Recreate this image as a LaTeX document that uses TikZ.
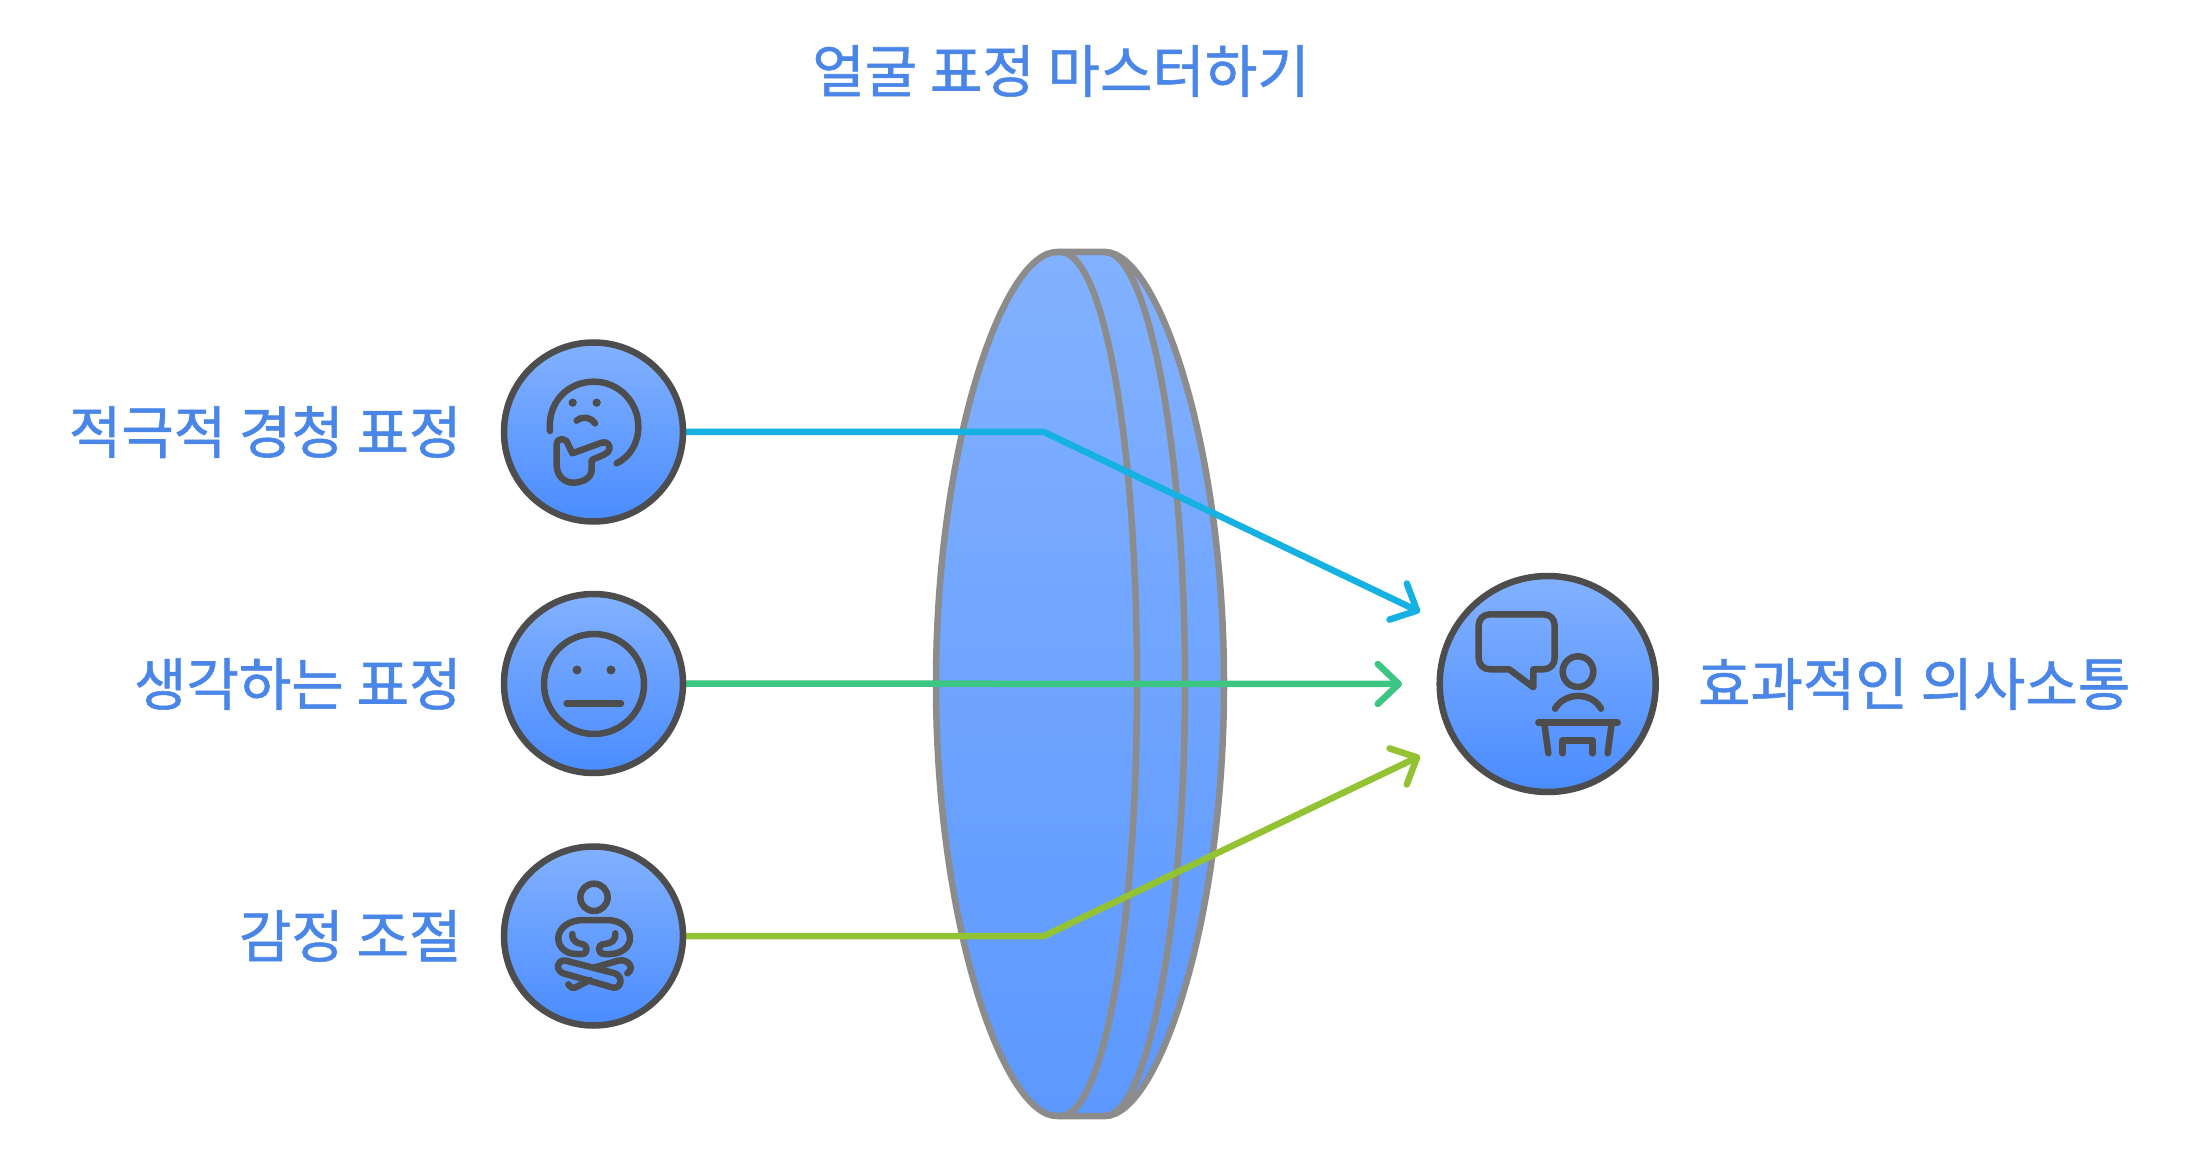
\documentclass[tikz,border=0pt]{standalone}
\usepackage{fontspec}
\setmainfont[FakeBold=1]{Noto Sans CJK KR}
\usetikzlibrary{arrows.meta}
\definecolor{txtblue}{HTML}{4A86E8}
\definecolor{lensgray}{HTML}{8C8C8C}
\definecolor{icongray}{HTML}{4D4D4D}
\definecolor{gradtop}{HTML}{82B1FF}
\definecolor{gradbot}{HTML}{4A8CFF}
\definecolor{lensbot}{HTML}{5C98FF}
\definecolor{cblue}{HTML}{14B1E2}
\definecolor{cgreen}{HTML}{3CC583}
\definecolor{clime}{HTML}{93C332}
\tikzset{
  x=1pt,y=-1pt,
  badge/.style={circle,draw=icongray,line width=6.5pt,top color=gradtop,bottom color=gradbot,inner sep=0pt,outer sep=0pt},
  lbl/.style={text=txtblue,font=\fontsize{57}{60}\selectfont,inner sep=0pt,outer sep=0pt},
  lensline/.style={draw=lensgray,line width=6.5pt,line join=round},
  icon/.style={draw=icongray,line width=6.5pt,line cap=round,line join=round},
  dot/.style={fill=icongray},
  link/.style={line width=6.5pt,line cap=round,line join=round,-{Straight Barb[length=21pt,width=40pt,line width=6.5pt,round]}},
}
\begin{document}
\begin{tikzpicture}
\useasboundingbox (0,0) rectangle (2196,1155);
% lens
\path[lensline,shade,top color=gradtop,bottom color=lensbot]
  (1057,252) -- (1105,252)
  .. controls (1158,252) and (1224,446) .. (1224,684)
  .. controls (1224,922) and (1158,1116) .. (1105,1116)
  -- (1057,1116)
  .. controls (1003,1116) and (936,922) .. (936,684)
  .. controls (936,446) and (1003,252) .. (1057,252) -- cycle;
\draw[lensline] (1060,252) .. controls (1105,252) and (1137,446) .. (1137,684)
  .. controls (1137,922) and (1105,1116) .. (1060,1116);
\draw[lensline] (1105,252) .. controls (1148,252) and (1185,446) .. (1185,684)
  .. controls (1185,922) and (1148,1116) .. (1105,1116);
% connector ends and badges
\coordinate (b1) at (1044,432);
\coordinate (b3) at (1044,936);
\coordinate (t1) at (1420,612);
\coordinate (t2) at (1402,684);
\coordinate (t3) at (1420,756);
\coordinate (s1) at (593.5,432);
\coordinate (s2) at (593.5,683.5);
\coordinate (s3) at (593.5,936);
\draw[link,cblue] (s1) -- (b1) -- (t1);
\draw[link,cgreen] (s2) -- (t2);
\draw[link,clime] (s3) -- (b3) -- (t3);
\node[badge,minimum size=179pt] (c1) at (s1) {};
\node[badge,minimum size=179pt] (c2) at (s2) {};
\node[badge,minimum size=179pt] (c3) at (s3) {};
\node[badge,minimum size=216pt] (c4) at (1547.7,684) {};
% icon 1
\begin{scope}[shift={(490,330)},xscale=1/3,yscale=1/3]
\draw[icon] (180,303) .. controls (172,215) and (235,155) .. (312,155)
  .. controls (385,155) and (445,215) .. (445,290)
  .. controls (445,340) and (420,380) .. (380,400);
\fill[dot] (248,218) circle (12.5);
\fill[dot] (320,218) circle (12.5);
\draw[icon] (260,272) .. controls (278,258) and (300,260) .. (315,280);
\draw[icon] (247,370) -- (335,338) .. controls (350,333) and (362,345) .. (358,358)
  .. controls (355,368) and (345,372) .. (340,375) -- (305,390)
  -- (305,420) .. controls (305,445) and (275,458) .. (250,458)
  .. controls (220,458) and (200,435) .. (200,405) -- (200,345)
  .. controls (200,320) and (230,322) .. (235,345) -- cycle;
\end{scope}
% icon 2
\begin{scope}[shift={(490,590)},xscale=1/3,yscale=1/3]
\draw[icon] (312,282) circle (150);
\fill[dot] (261,240) circle (13.5);
\fill[dot] (363,240) circle (13.5);
\draw[icon] (230,340) -- (393,340);
\end{scope}
% icon 3
\begin{scope}[shift={(490,840)},xscale=1/3,yscale=1/3]
\draw[icon] (312,172) circle (41);
\draw[icon] (247,282) .. controls (245,305) and (265,310) .. (275,312)
  .. controls (295,315) and (295,342) .. (275,342) -- (260,342)
  .. controls (225,342) and (205,320) .. (205,295)
  .. controls (205,262) and (240,240) .. (280,240) -- (350,240)
  .. controls (390,240) and (420,262) .. (420,295)
  .. controls (420,320) and (395,342) .. (360,342) -- (345,342)
  .. controls (320,342) and (320,312) .. (345,312)
  .. controls (365,310) and (378,300) .. (376,280);
\draw[icon] (227,362) -- (375,400) .. controls (400,410) and (395,445) .. (370,443)
  -- (220,400) .. controls (195,390) and (200,358) .. (227,362) -- cycle;
\draw[icon] (315,382) -- (385,362) .. controls (415,355) and (435,385) .. (412,400);
\draw[icon] (300,420) -- (255,443) .. controls (245,445) and (238,440) .. (235,433);
\end{scope}
% icon 4
\begin{scope}[shift={(1380,560)},xscale=1/3,yscale=1/3]
\draw[icon] (330,163) -- (490,163) .. controls (510,163) and (524,177) .. (524,197)
  -- (524,294) .. controls (524,314) and (510,328) .. (490,328) -- (460,328) -- (460,382)
  -- (388,328) -- (330,328) .. controls (310,328) and (296,314) .. (296,294)
  -- (296,197) .. controls (296,177) and (310,163) .. (330,163) -- cycle;
\draw[icon] (594,335) circle (46);
\draw[icon] (525,446) .. controls (555,395) and (635,395) .. (663,446);
\draw[icon] (475,488) -- (713,488);
\draw[icon] (493,490) -- (505,580);
\draw[icon] (695,490) -- (683,580);
\draw[icon] (548,580) -- (548,541) -- (638,541) -- (638,580);
\end{scope}
% texts
\node[lbl] (title) at (1061,71) {얼굴 표정 마스터하기};
\node[lbl,anchor=east] (l1) at (461.5,432) {적극적 경청 표정};
\node[lbl,anchor=east] (l2) at (461.5,684) {생각하는 표정};
\node[lbl,anchor=east] (l3) at (461.5,936) {감정 조절};
\node[lbl,anchor=west] (l4) at (1698,684) {효과적인 의사소통};
\end{tikzpicture}
\end{document}
